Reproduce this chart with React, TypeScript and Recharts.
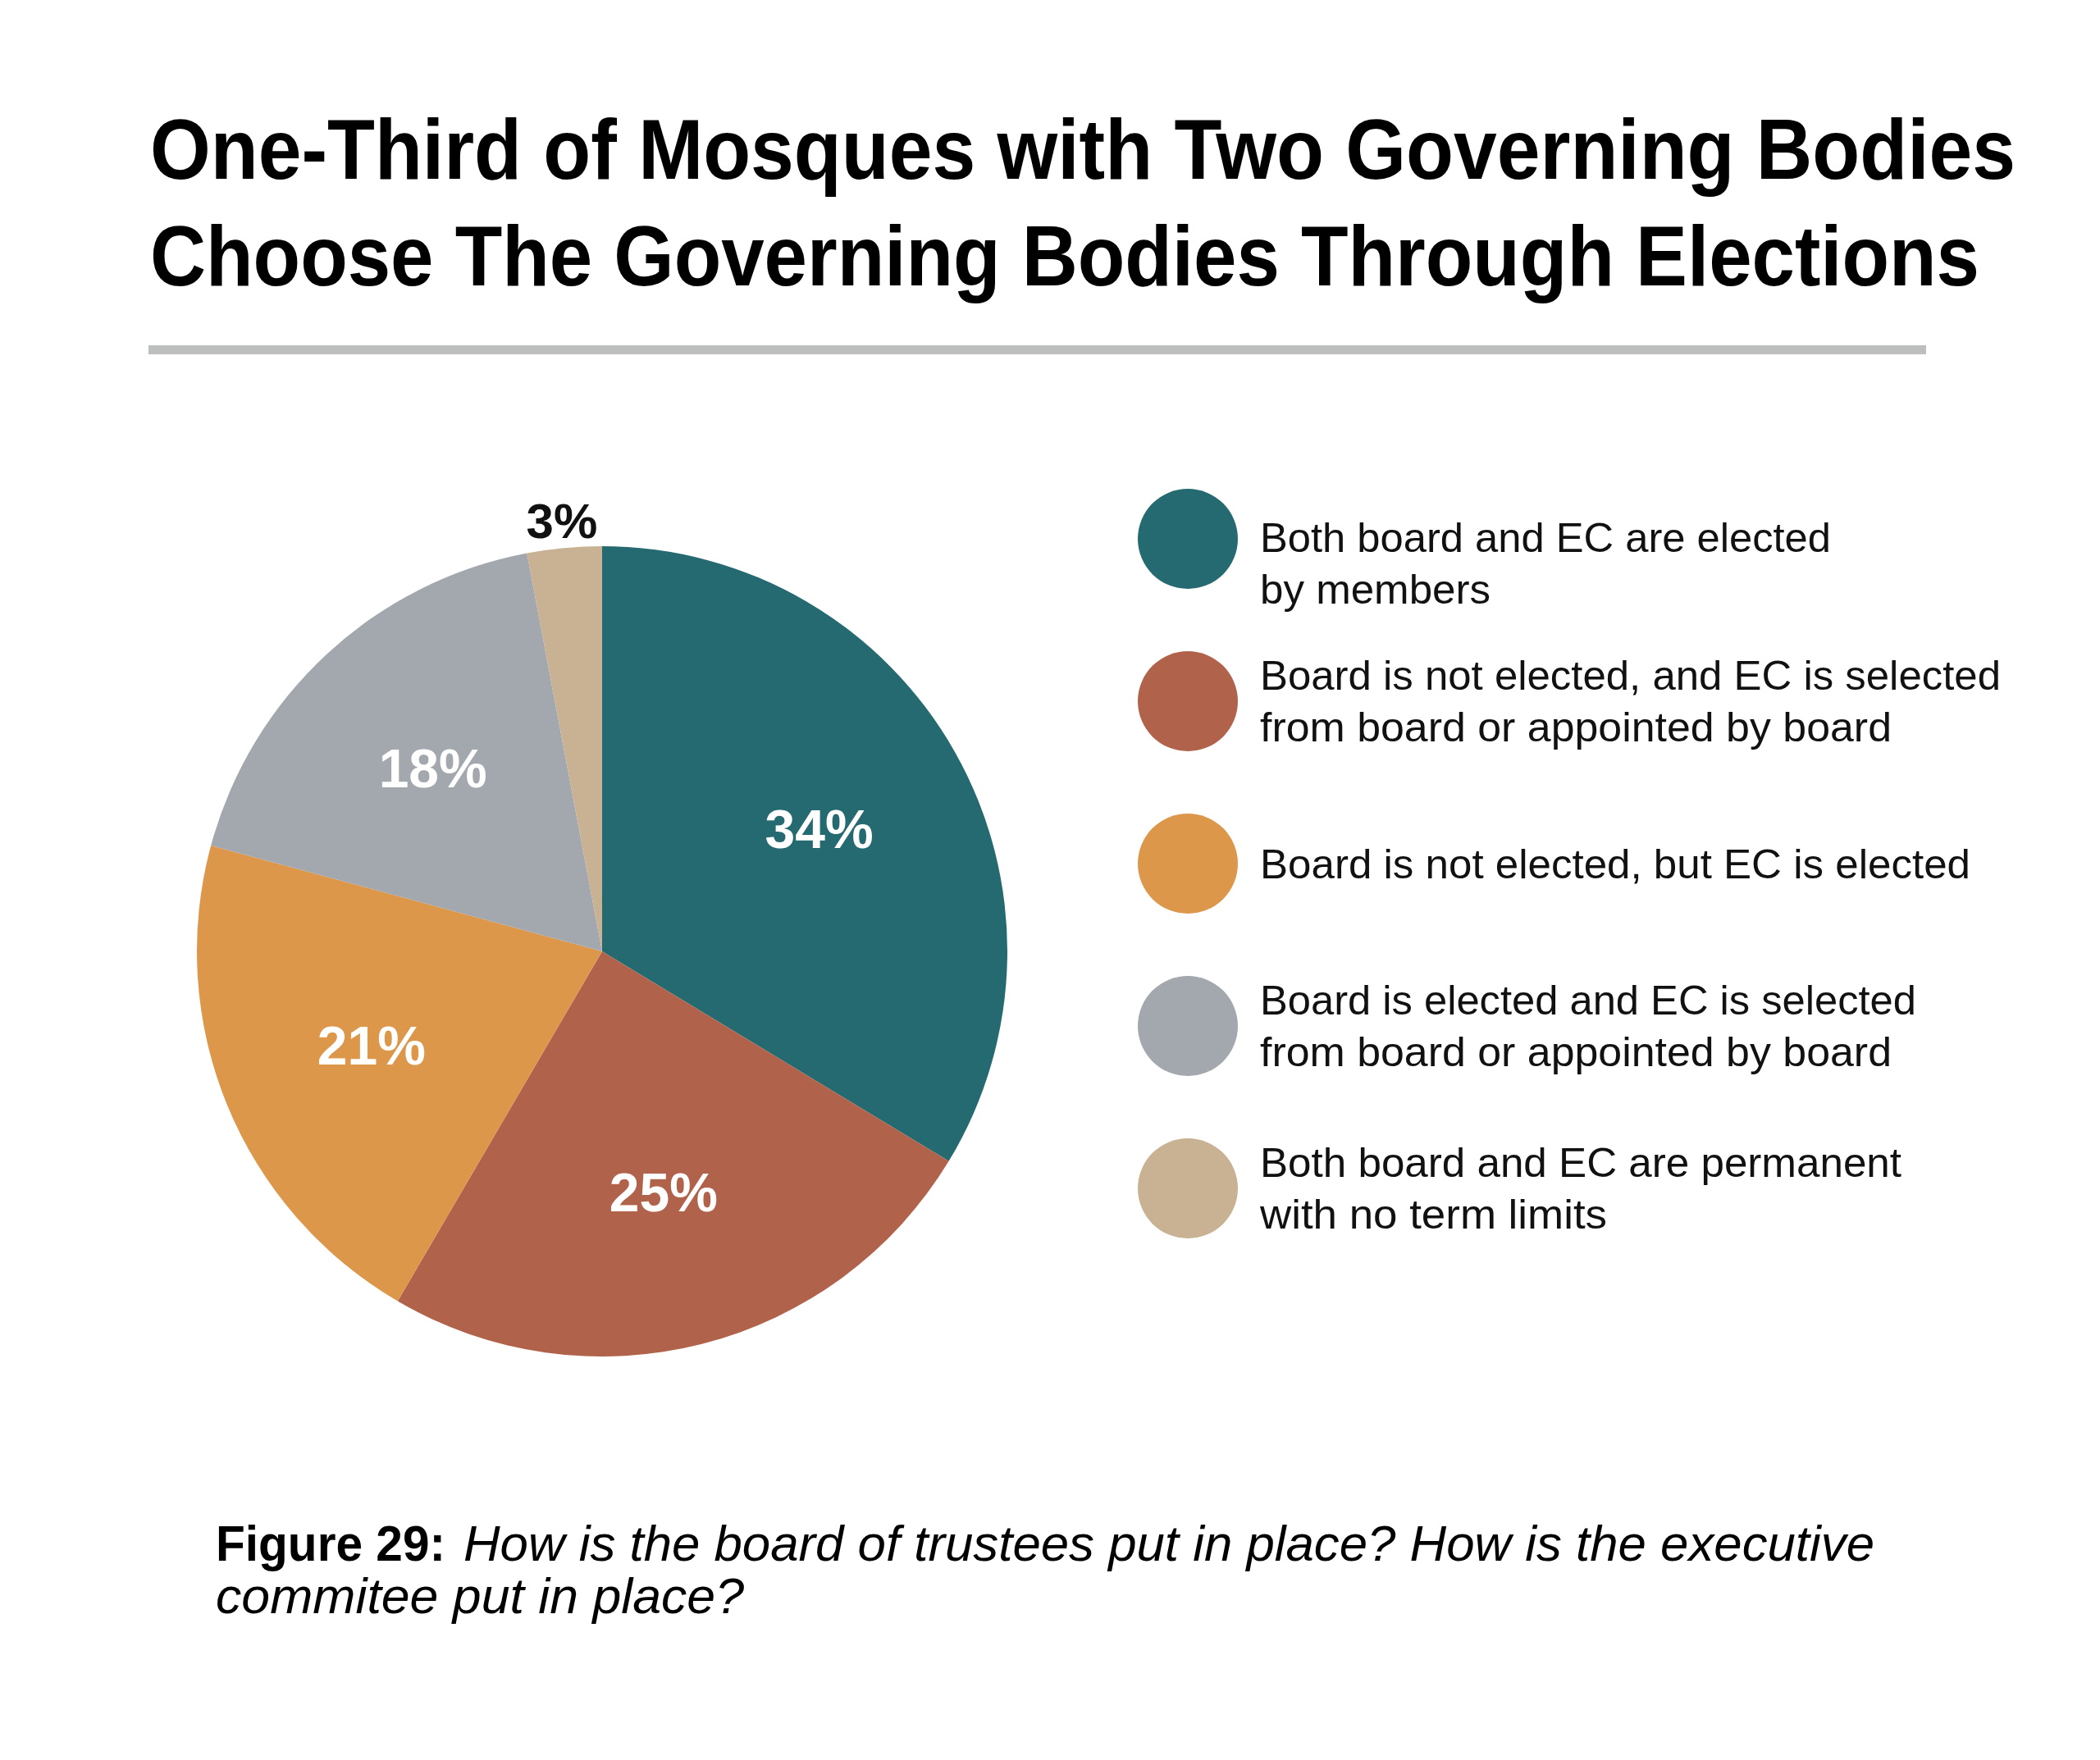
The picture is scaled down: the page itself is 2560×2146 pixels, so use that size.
import { Cell, Pie, PieChart } from 'recharts';

const categories = [
  'Both board and EC are elected by members',
  'Board is not elected, and EC is selected from board or appointed by board',
  'Board is not elected, but EC is elected',
  'Board is elected and EC is selected from board or appointed by board',
  'Both board and EC are permanent with no term limits',
];
const shares = [34, 25, 21, 18, 3];
const colors = ['#256a70', '#b0634a', '#dc974b', '#a3a7ae', '#c9b193'];

// legend text as it wraps in the original, with measured line widths
const legendLines = [
  ['Both board and EC are elected', 'by members'],
  ['Board is not elected, and EC is selected', 'from board or appointed by board'],
  ['Board is not elected, but EC is elected'],
  ['Board is elected and EC is selected', 'from board or appointed by board'],
  ['Both board and EC are permanent', 'with no term limits'],
];
const legendWidths = [[696, 281], [903, 770], [866], [800, 770], [782, 423]];

const titleLines = [
  'One-Third of Mosques with Two Governing Bodies',
  'Choose The Governing Bodies Through Elections',
];
const titleWidths = [2274, 2230];

const W = 2560;
const H = 2146;
const RAD = Math.PI / 180;

const data = categories.map((name, i) => ({ name, value: shares[i] }));

function renderLabel(props: any) {
  const { cx, cy, midAngle, outerRadius, value } = props;
  const outside = value < 5;
  const r = outside ? outerRadius + 33 : outerRadius * 0.615;
  const x = cx + r * Math.cos(-midAngle * RAD);
  const y = cy + r * Math.sin(-midAngle * RAD);
  return (
    <text
      x={x}
      y={y}
      fill={outside ? '#111' : '#fff'}
      textAnchor="middle"
      dominantBaseline="central"
      fontFamily="'Liberation Sans', Arial, sans-serif"
      fontWeight="bold"
      fontSize={outside ? 60 : 66}
    >
      {value}%
    </text>
  );
}

export default function App() {
  const font = "'Liberation Sans', Arial, sans-serif";
  const legendCx = 1448;
  const legendTextX = 1536;
  const legendY0 = 657;
  const legendStep = 198;

  return (
    <div style={{ position: 'absolute', left: 0, top: 0, width: W, height: H, background: '#fff' }}>
      <PieChart width={W} height={H} margin={{ top: 0, right: 0, bottom: 0, left: 0 }}>
        <Pie
          data={data}
          dataKey="value"
          nameKey="name"
          cx={734}
          cy={1160}
          outerRadius={494}
          startAngle={90}
          endAngle={-270}
          stroke="none"
          label={renderLabel}
          labelLine={false}
          isAnimationActive={false}
        >
          {data.map((d, i) => (
            <Cell key={d.name} fill={colors[i]} />
          ))}
        </Pie>
      </PieChart>

      <svg
        width={W}
        height={H}
        style={{ position: 'absolute', left: 0, top: 0, pointerEvents: 'none' }}
      >
        {titleLines.map((t, i) => (
          <text
            key={t}
            x={183}
            y={218 + i * 130}
            fontFamily={font}
            fontWeight="bold"
            fontSize={103}
            fill="#000"
            textLength={titleWidths[i]}
            lengthAdjust="spacingAndGlyphs"
          >
            {t}
          </text>
        ))}
        <rect x={181} y={421} width={2167} height={11} fill="#bdbfbf" />

        {legendLines.map((lines, i) => {
          const cy = legendY0 + i * legendStep;
          // first entry starts level with the swatch, the others are centred on it
          const first = i === 0 ? cy + 16 : cy + 18 - (lines.length - 1) * 32;
          return (
            <g key={i}>
              <ellipse cx={legendCx} cy={cy} rx={61} ry={61} fill={colors[i]} />
              {lines.map((ln, j) => (
                <text
                  key={j}
                  x={legendTextX}
                  y={first + j * 63}
                  fontFamily={font}
                  fontSize={50}
                  fill="#111"
                  textLength={legendWidths[i][j]}
                  lengthAdjust="spacingAndGlyphs"
                >
                  {ln}
                </text>
              ))}
            </g>
          );
        })}

        <text
          x={263}
          y={1903}
          fontFamily={font}
          fontWeight="bold"
          fontSize={61}
          fill="#000"
          textLength={280}
          lengthAdjust="spacingAndGlyphs"
        >
          Figure 29:
        </text>
        <text
          x={565}
          y={1903}
          fontFamily={font}
          fontStyle="italic"
          fontSize={61}
          fill="#000"
          textLength={1720}
          lengthAdjust="spacingAndGlyphs"
        >
          How is the board of trustees put in place? How is the executive
        </text>
        <text
          x={263}
          y={1967}
          fontFamily={font}
          fontStyle="italic"
          fontSize={61}
          fill="#000"
          textLength={644}
          lengthAdjust="spacingAndGlyphs"
        >
          commitee put in place?
        </text>
      </svg>
    </div>
  );
}
